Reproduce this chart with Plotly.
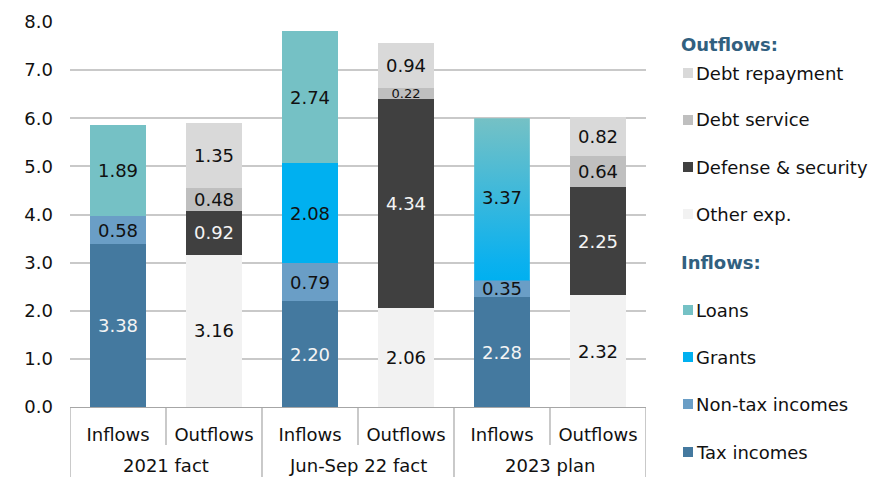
import plotly.graph_objects as go

# Category slots: (period, flow) pairs along the x axis
periods = ["2021 fact", "Jun-Sep 22 fact", "2023 plan"]
flows = ["Inflows", "Outflows"]

# Inflows by period (bn), bottom to top
tax_incomes = [3.38, 2.20, 2.28]
non_tax_incomes = [0.58, 0.79, 0.35]
grants = [None, 2.08, None]
loans = [1.89, 2.74, None]
plan_2023_grants_loans = 3.37  # grants and loans reported together for 2023

# Outflows by period (bn), bottom to top
other_exp = [3.16, 2.06, 2.32]
defense_security = [0.92, 4.34, 2.25]
debt_service = [0.48, 0.22, 0.64]
debt_repayment = [1.35, 0.94, 0.82]

y_ticks = [0, 1, 2, 3, 4, 5, 6, 7, 8]

FONT = "DejaVu Sans"
FS = 18
C_TAX = "#44799f"
C_NONTAX = "#6a9ec6"
C_GRANTS = "#00b0f0"
C_LOANS = "#75c1c5"
C_REPAY = "#d9d9d9"
C_SERVICE = "#bfbfbf"
C_DEFENSE = "#404040"
C_OTHER = "#f2f2f2"
BAR_W = 0.58

x_in = [2 * i for i in range(len(periods))]
x_out = [2 * i + 1 for i in range(len(periods))]

fig = go.Figure()


def add_stack(name, xs, vals, color, text_color, sizes=None):
    fig.add_trace(go.Bar(
        name=name, x=xs, y=vals, width=BAR_W,
        marker=dict(color=color, line=dict(width=0)),
        texttemplate="%{y:.2f}", textposition="inside",
        insidetextanchor="middle", constraintext="none",
        textfont=dict(family=FONT, size=sizes or FS, color=text_color),
        showlegend=False, hoverinfo="skip",
    ))


add_stack("Tax incomes", x_in, tax_incomes, C_TAX, "#f4f4f4")
add_stack("Non-tax incomes", x_in, non_tax_incomes, C_NONTAX, "#111111")
add_stack("Grants", x_in, grants, C_GRANTS, "#111111")
add_stack("Loans", x_in, loans, C_LOANS, "#111111")
add_stack("Other exp.", x_out, other_exp, C_OTHER, "#111111")
add_stack("Defense & security", x_out, defense_security, C_DEFENSE, "#f4f4f4")
add_stack("Debt service", x_out, debt_service, C_SERVICE, "#111111",
          sizes=[FS, 13, FS])
add_stack("Debt repayment", x_out, debt_repayment, C_REPAY, "#111111")

# 2023 grants + loans segment shaded from grants colour into loans colour
gx = x_in[2]
base = tax_incomes[2] + non_tax_incomes[2]
top = base + plan_2023_grants_loans
fig.add_trace(go.Scatter(
    x=[gx - BAR_W / 2, gx + BAR_W / 2, gx + BAR_W / 2, gx - BAR_W / 2, gx - BAR_W / 2],
    y=[base, base, top, top, base],
    mode="lines", line=dict(width=0), fill="toself",
    fillgradient=dict(type="vertical", start=base, stop=top,
                      colorscale=[[0, C_GRANTS], [0.12, "#0cb1ee"], [1, C_LOANS]]),
    showlegend=False, hoverinfo="skip",
))
fig.add_trace(go.Scatter(
    x=[gx], y=[(base + top) / 2], mode="text",
    text=[f"{plan_2023_grants_loans:.2f}"],
    textfont=dict(family=FONT, size=FS, color="#111111"),
    showlegend=False, hoverinfo="skip",
))

PLOT_H = 385.0
PLOT_L, PLOT_W = 70.0, 576.0

shapes = []
annotations = []
line_col = "#a6a6a6"
# Category box dividers below the axis
for i in range(len(periods) + 1):
    shapes.append(dict(type="line", xref="x", yref="paper",
                       x0=2 * i - 0.5, x1=2 * i - 0.5, y0=0, y1=-72 / PLOT_H,
                       line=dict(color=line_col, width=1.2)))
for i in range(len(periods)):
    shapes.append(dict(type="line", xref="x", yref="paper",
                       x0=2 * i + 0.5, x1=2 * i + 0.5, y0=0, y1=-38 / PLOT_H,
                       line=dict(color=line_col, width=1.2)))
    annotations.append(dict(xref="x", yref="paper", x=2 * i + 0.5, y=-58 / PLOT_H,
                            text=periods[i], showarrow=False, yanchor="middle",
                            font=dict(family=FONT, size=FS, color="#111111")))


def px_x(x):
    return (x - PLOT_L) / PLOT_W


def px_y(y):
    return (407 - y) / PLOT_H


# Side legend
legend_rows = [
    ("head", "Outflows:", None, 44),
    ("item", "Debt repayment", C_REPAY, 73),
    ("item", "Debt service", C_SERVICE, 120),
    ("item", "Defense & security", C_DEFENSE, 167),
    ("item", "Other exp.", C_OTHER, 214),
    ("head", "Inflows:", None, 262),
    ("item", "Loans", C_LOANS, 310),
    ("item", "Grants", C_GRANTS, 357),
    ("item", "Non-tax incomes", C_NONTAX, 404),
    ("item", "Tax incomes", C_TAX, 452),
]
for kind, label, color, yc in legend_rows:
    if kind == "head":
        annotations.append(dict(xref="paper", yref="paper", x=px_x(679), y=px_y(yc),
                                text=f"<b>{label}</b>", showarrow=False,
                                xanchor="left", yanchor="middle",
                                font=dict(family=FONT, size=FS, color="#31607f")))
    else:
        shapes.append(dict(type="rect", xref="paper", yref="paper",
                           x0=px_x(683), x1=px_x(693), y0=px_y(yc + 5), y1=px_y(yc - 5),
                           fillcolor=color, line=dict(width=0)))
        annotations.append(dict(xref="paper", yref="paper", x=px_x(694), y=px_y(yc),
                                text=label, showarrow=False,
                                xanchor="left", yanchor="middle",
                                font=dict(family=FONT, size=FS, color="#111111")))

fig.update_layout(
    barmode="stack",
    width=874, height=477,
    margin=dict(l=70, r=228, t=22, b=70),
    paper_bgcolor="white", plot_bgcolor="white",
    font=dict(family=FONT, size=FS, color="#111111"),
    shapes=shapes, annotations=annotations,
    showlegend=False,
)
fig.update_xaxes(
    range=[-0.5, 5.5], tickvals=x_in + x_out,
    ticktext=[flows[0]] * 3 + [flows[1]] * 3,
    showgrid=False, zeroline=False, showline=True, linecolor=line_col, linewidth=1.2,
    ticks="", ticklabelstandoff=11,
    tickfont=dict(family=FONT, size=FS, color="#111111"),
)
fig.update_yaxes(
    range=[0, 8], tickvals=y_ticks, tickformat=".1f",
    showgrid=True, gridcolor="#c9c9c9", gridwidth=1.5,
    zeroline=False, showline=False, ticks="", ticklabelstandoff=16,
    tickfont=dict(family=FONT, size=FS, color="#111111"),
)

fig.write_html("out.html")
